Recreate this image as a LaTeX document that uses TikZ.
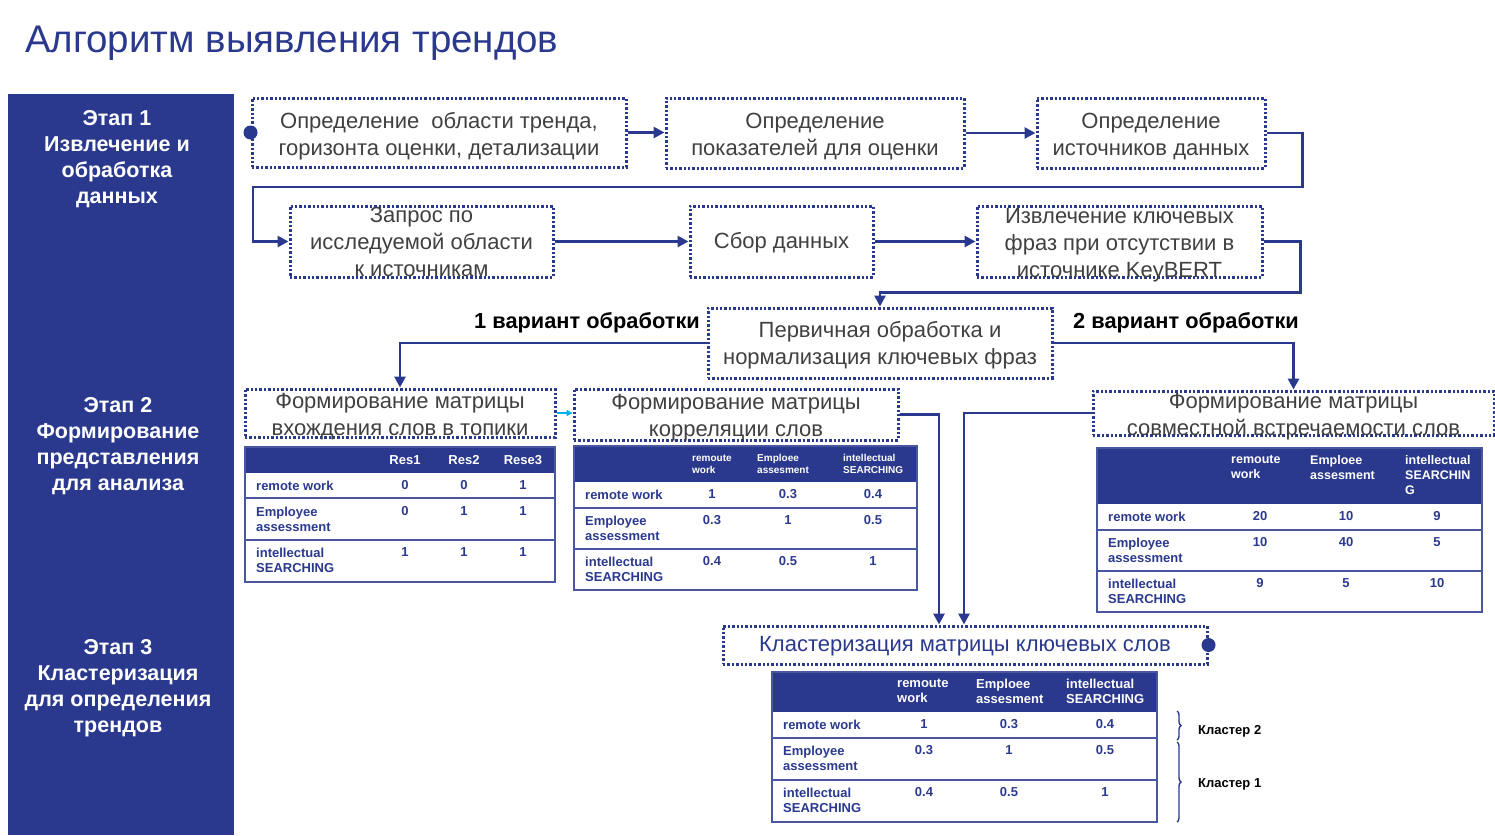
\documentclass[tikz,border=0pt]{standalone}
\usepackage{fontspec}
\setmainfont{Liberation Sans}
\usetikzlibrary{arrows.meta,decorations.pathreplacing}
\definecolor{navy}{RGB}{42,57,141}
\definecolor{slate}{RGB}{64,64,64}
\definecolor{sky}{RGB}{0,176,240}
\tikzset{
  >={Triangle[length=11pt,width=11pt]},
  lift/.style={execute at begin node={\rule{0pt}{#1}}},
  box/.style={draw=navy,line width=3pt,dash pattern=on 2.4pt off 2pt,
    inner ysep=-11pt,minimum height=#1,align=center,text=slate,
    font=\fontsize{22}{27}\selectfont},
  box/.default=70pt,
  flow/.style={->,draw=navy,line width=2.8pt},
  stage/.style={text=white,align=center,font=\fontsize{21.5}{26}\selectfont\bfseries},
  variant/.style={font=\fontsize{21.8}{24}\selectfont\bfseries},
  frame/.style={draw=navy!85,line width=2pt},
  rule/.style={draw=navy!85,line width=1.6pt},
  head/.style={anchor=north west,inner sep=0pt,align=left,text=white,
    font=\fontsize{13}{15}\selectfont\bfseries},
  cell/.style={anchor=north west,inner sep=0pt,align=left,text=navy,
    font=\fontsize{13}{15}\selectfont\bfseries},
  val/.style={anchor=north,inner sep=0pt,text=navy,
    font=\fontsize{13}{15}\selectfont\bfseries},
  cluster/.style={anchor=west,inner sep=0pt,font=\fontsize{13}{15}\selectfont\bfseries},
  curly/.style={draw=navy,line width=1.4pt,decorate,decoration={brace,amplitude=4pt}},
}
\begin{document}
\begin{tikzpicture}[x=1pt,y=-1pt]
  \useasboundingbox (0,0) rectangle (1495,835);
  \node[anchor=base west,inner sep=0pt,text=navy,font=\fontsize{38.5}{44}\selectfont] (title) at (25,52) {Алгоритм выявления трендов};
  \fill[navy] (8,94) rectangle (234,835);
  \node[stage] (st1) at (117,159.5) {Этап 1\\Извлечение и\\обработка\\данных};
  \node[stage] (st2) at (118,446.5) {Этап 2\\Формирование\\представления\\для анализа};
  \node[stage] (st3) at (118,688.5) {Этап 3\\Кластеризация\\для определения\\трендов};

  \node[box=69pt,minimum width=374pt,lift=50pt] (area) at (439,132.5) {Определение~ области тренда,\\горизонта оценки, детализации};
  \node[box,minimum width=298pt,lift=50pt] (kpi) at (815,133) {Определение\\показателей для оценки};
  \node[box,minimum width=228pt,lift=50pt] (src) at (1151,133) {Определение\\источников данных};
  \node[box=71pt,minimum width=263pt] (req) at (421.5,241.5) {Запрос по\\исследуемой области\\к источникам};
  \node[box=71pt,minimum width=183pt,lift=18pt] (collect) at (781.5,241.5) {Сбор данных};
  \node[box=71pt,minimum width=285pt,lift=76pt] (kw) at (1119.5,241.5) {Извлечение ключевых\\фраз при отсутствии в\\источнике KeyBERT};
  \node[box,minimum width=344pt,lift=48pt] (prep) at (880,343) {Первичная обработка и\\нормализация ключевых фраз};
  \node[box=48pt,minimum width=310pt,lift=50pt] (occ) at (400,413) {Формирование матрицы\\вхождения слов в топики};
  \node[box=51pt,minimum width=324pt,lift=49pt] (corr) at (736,414.5) {Формирование матрицы\\корреляции слов};
  \node[box=44pt,minimum width=401pt,lift=49pt] (cooc) at (1293.5,413) {Формирование матрицы\\совместной встречаемости слов};
  \node[box=38pt,minimum width=484pt,text=navy,lift=18pt] (clus) at (965,645) {Кластеризация матрицы ключевых слов};
  \node[variant,anchor=base east,inner sep=0pt] (var1) at (700,328) {1 вариант обработки};
  \node[variant,anchor=base west,inner sep=0pt] (var2) at (1073,328) {2 вариант обработки};

  \fill[navy] (area.west) circle (7pt);
  \fill[navy] (clus.east) circle (7pt);
  \draw[flow] (area.east) -- (area.east -| kpi.west);
  \draw[flow] (kpi.east) -- (kpi.east -| src.west);
  \draw[flow] (src.east) -- ++(36,0) |- (253,187) |- (req.west);
  \draw[flow] (req.east) -- (collect.west);
  \draw[flow] (collect.east) -- (kw.west);
  \draw[flow] (kw.east) -- ++(37,0) -- ++(0,51) -| (prep.north);
  \draw[flow] (prep.west) -| (occ.north);
  \draw[flow] (prep.east) -| (cooc.north);
  \draw[->,sky,line width=1.5pt,>={Triangle[length=6pt,width=6pt]}] (occ.east) -- (occ.east -| corr.west);
  \draw[flow] (corr.east) -| ([xshift=-26pt]clus.north);
  \draw[flow] (cooc.west) -| ([xshift=-1pt]clus.north);

  % occurrence table
  \fill[navy] (245,447) rectangle (555,473);
  \foreach \y in {498,540} \draw[rule] (245,\y) -- (555,\y);
  \draw[frame] (245,447) rectangle (555,582);
  \foreach \x/\t in {405/Res1,464/Res2,523/Rese3} \node[head,anchor=north] (ta-\t) at (\x,455) {\t};
  \foreach \y/\t/\a/\b/\c in {480.5/remote work/0/0/1,506.5/Employee\\assessment/0/1/1,547.5/intellectual\\SEARCHING/1/1/1}{
    \node[cell] (ta-l\y) at (256,\y) {\t};
    \node[val] (ta-a\y) at (405,\y) {\a};
    \node[val] (ta-b\y) at (464,\y) {\b};
    \node[val] (ta-c\y) at (523,\y) {\c};
  }

  % correlation table
  \fill[navy] (574,446) rectangle (917,482);
  \foreach \y in {508,549} \draw[rule] (574,\y) -- (917,\y);
  \draw[frame] (574,446) rectangle (917,590);
  \foreach \x/\t in {692/remoute\\work,757/Emploee\\assesment,843/intellectual\\SEARCHING}
    \node[head,font=\fontsize{10}{12}\selectfont\bfseries] (tb-h\x) at (\x,454.5) {\t};
  \foreach \y/\t/\a/\b/\c in {489.5/remote work/1/0.3/0.4,515.5/Employee\\assessment/0.3/1/0.5,556.5/intellectual\\SEARCHING/0.4/0.5/1}{
    \node[cell] (tb-l\y) at (585,\y) {\t};
    \node[val] (tb-a\y) at (712,\y) {\a};
    \node[val] (tb-b\y) at (788,\y) {\b};
    \node[val] (tb-c\y) at (873,\y) {\c};
  }

  % co-occurrence table
  \fill[navy] (1097,448) rectangle (1482,504);
  \foreach \y in {530,571} \draw[rule] (1097,\y) -- (1482,\y);
  \draw[frame] (1097,448) rectangle (1482,612);
  \foreach \x/\t in {1231/remoute\\work,1310/Emploee\\assesment,1405/intellectual\\SEARCHIN\\G}
    \node[head,font=\fontsize{12.5}{15}\selectfont\bfseries] (tc-h\x) at (\x,455.5) {\t};
  \foreach \y/\t/\a/\b/\c in {511.5/remote work/20/10/9,537.5/Employee\\assessment/10/40/5,578.5/intellectual\\SEARCHING/9/5/10}{
    \node[cell] (tc-l\y) at (1108,\y) {\t};
    \node[val] (tc-a\y) at (1260,\y) {\a};
    \node[val] (tc-b\y) at (1346,\y) {\b};
    \node[val] (tc-c\y) at (1437,\y) {\c};
  }

  % clustered table
  \fill[navy] (772,672) rectangle (1157,712);
  \foreach \y in {738,780} \draw[rule] (772,\y) -- (1157,\y);
  \draw[frame] (772,672) rectangle (1157,822);
  \foreach \x/\t in {897/remoute\\work,976/Emploee\\assesment,1066/intellectual\\SEARCHING}
    \node[head] (td-h\x) at (\x,678.5) {\t};
  \foreach \y/\t/\a/\b/\c in {719.5/remote work/1/0.3/0.4,745.5/Employee\\assessment/0.3/1/0.5,787.5/intellectual\\SEARCHING/0.4/0.5/1}{
    \node[cell] (td-l\y) at (783,\y) {\t};
    \node[val] (td-a\y) at (924,\y) {\a};
    \node[val] (td-b\y) at (1009,\y) {\b};
    \node[val] (td-c\y) at (1105,\y) {\c};
  }
  \draw[curly] (1177,711) -- (1177,740);
  \draw[curly] (1177,742) -- (1177,822);
  \node[cluster] (cl2) at (1198,731) {Кластер 2};
  \node[cluster] (cl1) at (1198,784) {Кластер 1};
\end{tikzpicture}
\end{document}
